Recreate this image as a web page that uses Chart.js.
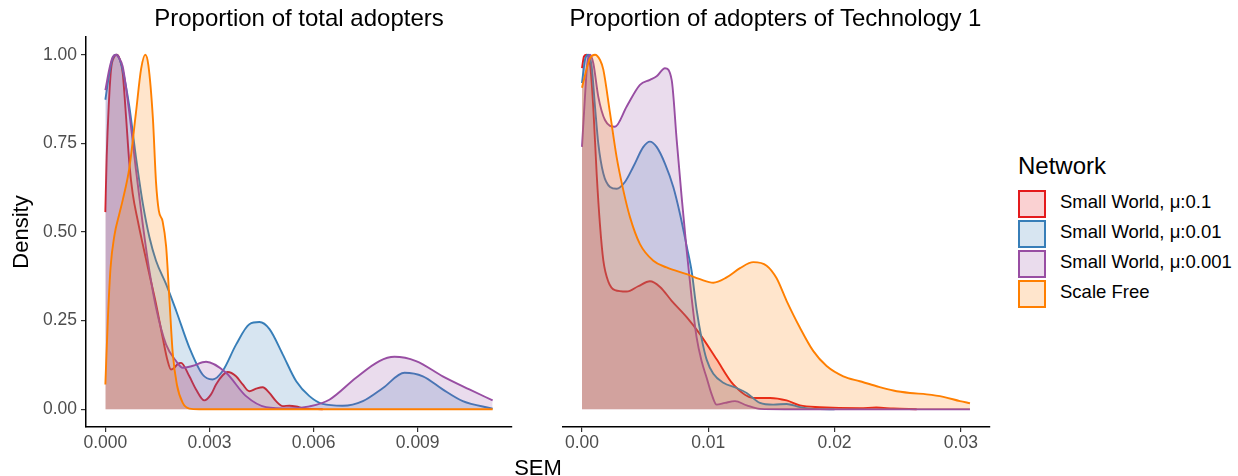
<!DOCTYPE html>
<html>
<head>
<meta charset="utf-8">
<script src="https://cdn.jsdelivr.net/npm/chart.js@4.4.1/dist/chart.umd.min.js"></script>
<style>
  html, body { margin: 0; padding: 0; background: #fff; }
  #wrap { position: relative; width: 1238px; height: 476px; overflow: hidden; background: #fff;
          font-family: "Liberation Sans", Arial, sans-serif; }
  canvas { position: absolute; top: 0; }
  .txt { position: absolute; line-height: 1; white-space: nowrap; color: #000; }
  .ptitle { font-size: 24px; width: 600px; text-align: center; top: 6.4px; }
  .key { position: absolute; left: 1018px; width: 28px; height: 28px; box-sizing: border-box; border: 2px solid; }
  .lab { font-size: 18.5px; left: 1060px; }
</style>
</head>
<body>
<div id="wrap">
  <canvas id="c1" width="525" height="476" style="left:0px"></canvas>
  <canvas id="c2" width="470" height="476" style="left:540px"></canvas>
  <div id="t1" class="txt ptitle"></div>
  <div id="t2" class="txt ptitle"></div>
  <div id="xt" class="txt" style="font-size:22px; width:200px; text-align:center; left:438px; top:457px;"></div>
  <div id="legend"></div>
</div>
<script>
// ---------- labels ----------
const panelTitles = ['Proportion of total adopters', 'Proportion of adopters of Technology 1'];
const xAxisTitle = 'SEM';
const yAxisTitle = 'Density';
const legendTitle = 'Network';
const seriesNames = ['Small World, \u03bc:0.1', 'Small World, \u03bc:0.01', 'Small World, \u03bc:0.001', 'Scale Free'];

// ---------- tick labels ----------
const yTicks = [0, 0.25, 0.5, 0.75, 1];
const yTickLabels = ['0.00', '0.25', '0.50', '0.75', '1.00'];
const leftXTicks = [0, 0.003, 0.006, 0.009];
const leftXTickLabels = ['0.000', '0.003', '0.006', '0.009'];
const rightXTicks = [0, 0.01, 0.02, 0.03];
const rightXTickLabels = ['0.00', '0.01', '0.02', '0.03'];

// ---------- Panel 1: Proportion of total adopters ----------
const totalSW1_sem = [0, 0.000038, 0.000096, 0.000163, 0.000259, 0.00033, 0.000403, 0.0005, 0.000596, 0.000692, 0.000788, 0.000932, 0.001076, 0.001268, 0.00146, 0.001652, 0.001796, 0.001892, 0.001988, 0.002085, 0.002181, 0.002421, 0.002613, 0.002853, 0.003045, 0.003189, 0.003381, 0.003525, 0.003766, 0.003958, 0.00415, 0.004342, 0.004534, 0.004726, 0.004918, 0.00511, 0.005303, 0.005495, 0.005735, 0.006263];
const totalSW1_den = [0.556, 0.712, 0.854, 0.958, 0.995, 1.0, 0.99, 0.948, 0.825, 0.693, 0.608, 0.533, 0.466, 0.381, 0.297, 0.202, 0.136, 0.112, 0.117, 0.128, 0.131, 0.093, 0.056, 0.025, 0.042, 0.07, 0.096, 0.105, 0.093, 0.07, 0.051, 0.058, 0.062, 0.046, 0.023, 0.009, 0.01, 0.008, 0.002, 0];

const totalSW2_sem = [0, 0.000115, 0.00021, 0.000307, 0.0004, 0.0005, 0.00069, 0.00088, 0.00108, 0.00127, 0.00146, 0.00175, 0.00204, 0.00242, 0.0028, 0.00309, 0.00338, 0.00377, 0.00415, 0.00444, 0.00473, 0.00511, 0.0055, 0.00588, 0.00626, 0.00684, 0.00742, 0.008, 0.00862, 0.00915, 0.00972, 0.0103, 0.01116];
const totalSW2_den = [0.873, 0.948, 0.99, 1.0, 0.99, 0.957, 0.854, 0.712, 0.58, 0.485, 0.419, 0.353, 0.278, 0.174, 0.098, 0.084, 0.108, 0.183, 0.24, 0.246, 0.226, 0.155, 0.079, 0.037, 0.015, 0.01, 0.023, 0.06, 0.103, 0.093, 0.056, 0.023, 0.002];

const totalSW3_sem = [0, 0.000115, 0.00021, 0.000307, 0.0004, 0.0005, 0.000692, 0.000884, 0.001076, 0.001268, 0.00146, 0.001748, 0.002037, 0.002229, 0.0025, 0.002901, 0.003478, 0.004054, 0.00463, 0.005303, 0.005879, 0.006455, 0.007224, 0.007896, 0.008329, 0.008953, 0.009722, 0.01049, 0.01116];
const totalSW3_den = [0.90, 0.96, 0.993, 1.0, 0.99, 0.967, 0.835, 0.674, 0.523, 0.391, 0.287, 0.183, 0.136, 0.117, 0.122, 0.134, 0.103, 0.037, 0.006, 0.002, 0.008, 0.027, 0.089, 0.136, 0.148, 0.136, 0.093, 0.056, 0.025];

const totalSF_sem = [0, 0.00007, 0.00015, 0.00026, 0.0004, 0.0005, 0.00069, 0.00088, 0.00103, 0.00115, 0.00124, 0.00137, 0.00146, 0.00154, 0.00165, 0.00175, 0.00184, 0.00194, 0.00206, 0.00223, 0.00242, 0.0027, 0.0055, 0.01116];
const totalSF_den = [0.07, 0.25, 0.40, 0.49, 0.55, 0.59, 0.68, 0.835, 0.96, 1.0, 0.97, 0.82, 0.64, 0.56, 0.53, 0.46, 0.32, 0.16, 0.07, 0.018, 0.002, 0, 0, 0];

// ---------- Panel 2: Proportion of adopters of Technology 1 ----------
const techSW1_sem = [0, 0.000158, 0.00037, 0.000633, 0.000897, 0.001161, 0.001425, 0.001689, 0.002085, 0.00261, 0.00354, 0.00445, 0.00538, 0.00618, 0.0071, 0.00829, 0.00934, 0.01066, 0.01198, 0.01357, 0.01489, 0.0162, 0.01726, 0.01884, 0.022, 0.0233, 0.02465, 0.0265];
const techSW1_den = [0.962, 0.995, 1.0, 0.976, 0.85, 0.665, 0.52, 0.42, 0.36, 0.336, 0.332, 0.347, 0.361, 0.345, 0.306, 0.26, 0.212, 0.141, 0.07, 0.032, 0.032, 0.025, 0.011, 0.006, 0.003, 0.005, 0.002, 0];

const techSW2_sem = [0, 0.000238, 0.0005, 0.000765, 0.00103, 0.00129, 0.00169, 0.00222, 0.002745, 0.0034, 0.00406, 0.00486, 0.00538, 0.00591, 0.00657, 0.00723, 0.00776, 0.00829, 0.00868, 0.00908, 0.00947, 0.00987, 0.0104, 0.01119, 0.01225, 0.01304, 0.01409, 0.01515, 0.0162, 0.01726, 0.01832, 0.02];
const techSW2_den = [0.92, 0.986, 1.0, 0.967, 0.854, 0.75, 0.665, 0.627, 0.622, 0.641, 0.684, 0.74, 0.755, 0.74, 0.693, 0.627, 0.551, 0.46, 0.39, 0.28, 0.2, 0.14, 0.1, 0.075, 0.06, 0.046, 0.018, 0.013, 0.015, 0.006, 0.001, 0];

const techSW3_sem = [0, 0.000238, 0.00042, 0.000633, 0.000897, 0.00129, 0.00182, 0.00261, 0.00354, 0.00459, 0.00538, 0.00591, 0.00657, 0.0071, 0.0075, 0.00789, 0.00829, 0.00868, 0.00908, 0.00947, 0.00987, 0.01027, 0.01066, 0.01132, 0.01211, 0.01304, 0.01409, 0.016, 0.03072];
const techSW3_den = [0.74, 0.882, 0.976, 1.0, 0.976, 0.882, 0.816, 0.797, 0.854, 0.915, 0.929, 0.939, 0.962, 0.929, 0.759, 0.599, 0.448, 0.315, 0.202, 0.136, 0.089, 0.042, 0.013, 0.018, 0.023, 0.011, 0.001, 0, 0];

const techSF_sem = [0, 0.000369, 0.000633, 0.00103, 0.00143, 0.00169, 0.00222, 0.00274, 0.00327, 0.0038, 0.00459, 0.00565, 0.0067, 0.00829, 0.00934, 0.0104, 0.01145, 0.01251, 0.01357, 0.01462, 0.0154, 0.0162, 0.01726, 0.01832, 0.01937, 0.02069, 0.022, 0.02333, 0.02465, 0.02597, 0.02729, 0.02861, 0.02993, 0.03072];
const techSF_den = [0.907, 0.96, 0.99, 1.0, 0.985, 0.958, 0.835, 0.712, 0.618, 0.542, 0.466, 0.419, 0.40, 0.381, 0.367, 0.357, 0.372, 0.398, 0.415, 0.405, 0.37, 0.306, 0.23, 0.164, 0.122, 0.093, 0.079, 0.065, 0.053, 0.046, 0.042, 0.035, 0.023, 0.017];

// ---------- styles ----------
const lineColors = ['#E41A1C', '#377EB8', '#984EA3', '#FF7F00'];
const fillColors = ['rgba(228,26,28,0.2)', 'rgba(55,126,184,0.2)', 'rgba(152,78,163,0.2)', 'rgba(255,127,0,0.2)'];
const FONT = '"Liberation Sans", Arial, sans-serif';

Chart.defaults.font.family = FONT;

function zip(xs, ys) { return xs.map((x, i) => ({ x: x, y: ys[i] })); }

function makeDatasets(pairs) {
  return pairs.map((p, i) => ({
    label: seriesNames[i],
    data: zip(p[0], p[1]),
    borderColor: lineColors[i],
    backgroundColor: fillColors[i],
    borderWidth: 1.9,
    pointRadius: 0,
    fill: 'origin',
    cubicInterpolationMode: 'monotone',
    order: 4 - i
  }));
}

function axisGrid() {
  return { display: true, drawOnChartArea: false, drawTicks: true, tickLength: 5, color: '#333333', lineWidth: 1.2 };
}

function makeChart(canvasId, pairs, xmin, xmax, xTicks, xTickLabels, showY, padLeft, padRight) {
  const yScale = {
    type: 'linear', min: -0.05, max: 1.05,
    display: showY,
    afterBuildTicks: s => { s.ticks = yTicks.map(v => ({ value: v })); },
    ticks: { callback: (v, i) => yTickLabels[i], color: '#4D4D4D', font: { size: 17.5 }, padding: 4 },
    grid: axisGrid(),
    border: { display: true, color: '#000000', width: 1.5 },
    title: { display: true, text: yAxisTitle, color: '#000000', font: { size: 22 }, padding: { top: 9, bottom: 0 } }
  };
  if (showY) yScale.afterFit = s => { s.width = 86; };
  return new Chart(document.getElementById(canvasId), {
    type: 'line',
    data: { datasets: makeDatasets(pairs) },
    options: {
      responsive: false,
      animation: false,
      devicePixelRatio: 1,
      layout: { padding: { left: padLeft, right: padRight, top: 37, bottom: 0 } },
      plugins: { legend: { display: false }, tooltip: { enabled: false }, title: { display: false } },
      scales: {
        x: {
          type: 'linear', position: 'bottom', min: xmin, max: xmax,
          afterFit: s => { s.height = 49; },
          afterBuildTicks: s => { s.ticks = xTicks.map(v => ({ value: v })); },
          ticks: { callback: (v, i) => xTickLabels[i], color: '#4D4D4D', font: { size: 17.5 }, padding: 1, maxRotation: 0, autoSkip: false },
          grid: axisGrid(),
          border: { display: true, color: '#000000', width: 1.5 }
        },
        y: yScale
      }
    }
  });
}

makeChart('c1', [[totalSW1_sem, totalSW1_den], [totalSW2_sem, totalSW2_den], [totalSW3_sem, totalSW3_den], [totalSF_sem, totalSF_den]],
  -0.000558, 0.011718, leftXTicks, leftXTickLabels, true, 0, 13);
makeChart('c2', [[techSW1_sem, techSW1_den], [techSW2_sem, techSW2_den], [techSW3_sem, techSW3_den], [techSF_sem, techSF_den]],
  -0.001535, 0.032235, rightXTicks, rightXTickLabels, false, 22.6, 20.9);

// ---------- text ----------
const t1 = document.getElementById('t1'); t1.textContent = panelTitles[0]; t1.style.left = (299 - 300) + 'px';
const t2 = document.getElementById('t2'); t2.textContent = panelTitles[1]; t2.style.left = (775.5 - 300) + 'px';
document.getElementById('xt').textContent = xAxisTitle;

const legend = document.getElementById('legend');
const lt = document.createElement('div');
lt.className = 'txt'; lt.style.fontSize = '24px'; lt.style.left = '1018px'; lt.style.top = '153.8px';
lt.textContent = legendTitle; legend.appendChild(lt);
seriesNames.forEach((name, i) => {
  const k = document.createElement('div');
  k.className = 'key';
  k.style.top = (190 + 30 * i) + 'px';
  k.style.borderColor = lineColors[i];
  k.style.background = fillColors[i];
  legend.appendChild(k);
  const l = document.createElement('div');
  l.className = 'txt lab';
  l.style.top = (192.6 + 30 * i) + 'px';
  l.textContent = name;
  legend.appendChild(l);
});
</script>
</body>
</html>
